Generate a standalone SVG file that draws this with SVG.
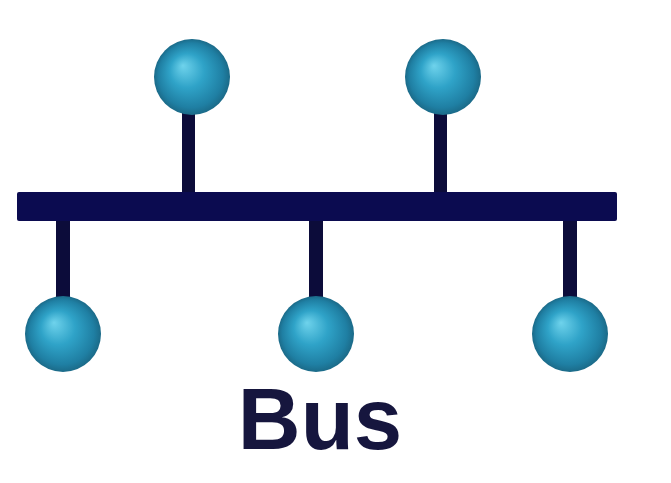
<svg xmlns="http://www.w3.org/2000/svg" width="671" height="483" viewBox="0 0 671 483">
<defs>
<radialGradient id="ball" cx="0.5" cy="0.5" r="0.5" fx="0.38" fy="0.35">
<stop offset="0" stop-color="#6fd3ec"/>
<stop offset="0.45" stop-color="#2fa3c8"/>
<stop offset="0.85" stop-color="#1f7fa3"/>
<stop offset="1" stop-color="#1b6a88"/>
</radialGradient>
<style>
.stem{fill:#0c0c3a}
.bar{fill:#0b0b50}
.ball{fill:url(#ball)}
.lbl{font-family:"Liberation Sans",Arial,sans-serif;font-weight:bold;font-size:87px;fill:#16163e}
</style>
</defs>
<rect width="671" height="483" fill="#ffffff"/>
<g id="connectors">
<rect class="stem" x="182" y="100" width="13" height="96"/>
<rect class="stem" x="434" y="100" width="13" height="96"/>
<rect class="stem" x="56" y="218" width="14" height="86"/>
<rect class="stem" x="309" y="218" width="14" height="86"/>
<rect class="stem" x="563" y="218" width="14" height="86"/>
</g>
<g id="bus"><rect class="bar" x="17" y="192" width="600" height="29" rx="2"/></g>
<g id="node-top-1"><circle class="ball" cx="192" cy="77" r="38"/></g>
<g id="node-top-2"><circle class="ball" cx="443" cy="77" r="38"/></g>
<g id="node-bottom-1"><circle class="ball" cx="63" cy="334" r="38"/></g>
<g id="node-bottom-2"><circle class="ball" cx="316" cy="334" r="38"/></g>
<g id="node-bottom-3"><circle class="ball" cx="570" cy="334" r="38"/></g>
<text class="lbl" x="320" y="449" text-anchor="middle">Bus</text>
</svg>
